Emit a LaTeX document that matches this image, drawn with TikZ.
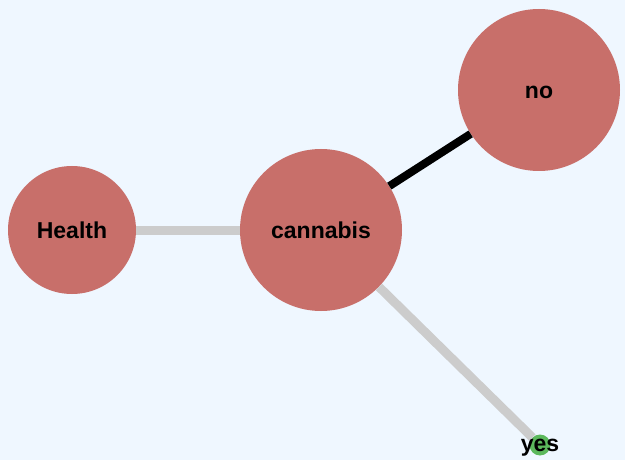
\documentclass[tikz,border=0pt]{standalone}
\usepackage{fontspec}
\setmainfont{Liberation Sans}
\usetikzlibrary{positioning}
\definecolor{pagebg}{RGB}{239,247,255}
\definecolor{topicred}{RGB}{200,111,106}
\definecolor{leafgreen}{RGB}{92,184,92}
\definecolor{linkgray}{RGB}{204,204,204}

\begin{document}
\begin{tikzpicture}[x=1pt,y=-1pt]
                \tikzstyle{topic} = [
	shape=circle,
	fill=topicred, %fill the space of the node
	inner sep=0pt,
	font=\fontsize{23}{27}\selectfont\bfseries
];
\tikzstyle{leaf} = [
	shape=circle,
	fill=leafgreen,
	inner sep=0pt,
	minimum size=21pt
];

\fill[pagebg] (0,0) rectangle (625,460);
\useasboundingbox (0,0) rectangle (625,460);

%answers and topics
\node[topic, minimum size=128pt](Health) at (72,230) {Health};
\node[topic, minimum size=162pt](cannabis) at (321,230) {cannabis};
\node[topic, minimum size=162pt, text height=17pt, text depth=0pt](no) at (539,90) {no};
\node[leaf, label={[font=\fontsize{23}{27}\selectfont\bfseries, inner sep=0pt, yshift=-3pt]center:yes}](yes) at (540,445) {};

%weak links
\draw[line width=9pt, color=linkgray]
	(Health) edge[] (cannabis)
	(cannabis) edge[] (yes)
;

%strong link
\draw[line width=8pt, color=black]
	(cannabis) edge[] (no)
;

            \end{tikzpicture}
\end{document}
